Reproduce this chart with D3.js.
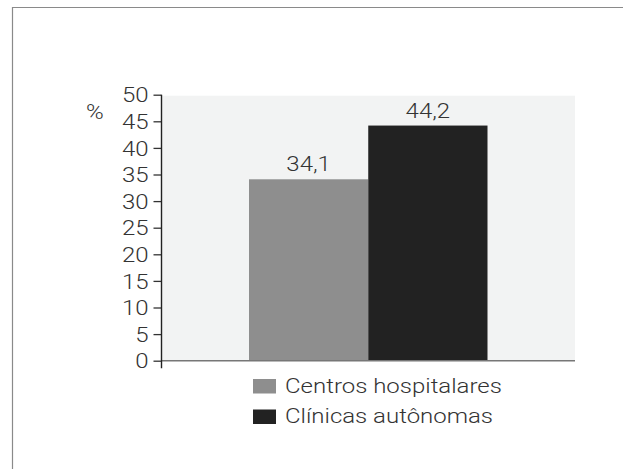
<!DOCTYPE html>
<html><head><meta charset="utf-8">
<script src="https://cdn.jsdelivr.net/npm/d3@7"></script>
<style>
html,body{margin:0;padding:0;background:#fff;}
svg{display:block;font-family:Roboto,"Liberation Sans",sans-serif;font-weight:300;}
</style></head>
<body>
<script>
const categories = ["Centros hospitalares", "Clínicas autônomas"];
const values = [34.1, 44.2];
const valueLabels = ["34,1", "44,2"];
const colors = ["#8e8e8e", "#222222"];
const yTicks = [0,5,10,15,20,25,30,35,40,45,50];

const W = 623, H = 469;
const FS = 20, SX = 1.2;
const svg = d3.select("body").append("svg").attr("width", W).attr("height", H);
const textColor = "#333";

function wideText(parent, x, y, str, anchor) {
  return parent.append("text")
    .attr("transform", `translate(${x},${y}) scale(${SX},1)`)
    .attr("text-anchor", anchor || "start")
    .attr("font-size", FS).attr("fill", textColor).text(str);
}

// frame
svg.append("path").attr("d", "M12.5,469 V7.5 H623").attr("fill","none").attr("stroke","#8a8a8a").attr("stroke-width",1.2);

const plotLeft = 161.5, plotRight = 575, y0 = 360.7, yTop = 94.7;
const y = d3.scaleLinear().domain([0,50]).range([y0, yTop]);
const x = d3.scaleBand().domain(categories).range([249, 487.5]).paddingInner(0).paddingOuter(0);

// plot background
svg.append("rect").attr("x", plotLeft).attr("y", y(50)+1).attr("width", plotRight-plotLeft).attr("height", y(0)-y(50)-1).attr("fill","#f2f3f3");

// bars
svg.selectAll("rect.bar").data(values).enter().append("rect").attr("class","bar")
  .attr("x",(d,i)=>x(categories[i])).attr("width",x.bandwidth())
  .attr("y",d=>y(d)).attr("height",d=>y(0)-y(d)).attr("fill",(d,i)=>colors[i]);

// value labels
values.forEach((d,i)=>{
  wideText(svg, x(categories[i])+x.bandwidth()/2, y(d)-8, valueLabels[i], "middle");
});

// baseline
svg.append("line").attr("x1",plotLeft).attr("x2",plotRight).attr("y1",y(0)).attr("y2",y(0)).attr("stroke","#777").attr("stroke-width",1.5);

// y axis
const axis = d3.axisLeft(y).tickValues(yTicks).tickSize(8).tickPadding(5).tickFormat(d3.format("d"));
const g = svg.append("g").attr("transform",`translate(${plotLeft},0)`).call(axis);
g.select(".domain").remove();
g.selectAll(".tick line").attr("stroke","#333").attr("stroke-width",1.3);
g.selectAll(".tick text")
  .attr("x", -13/SX).attr("transform", `scale(${SX},1)`)
  .attr("font-size",FS).attr("fill",textColor)
  .attr("font-family","Roboto, 'Liberation Sans', sans-serif").attr("font-weight",300).attr("dy","0.36em");
svg.append("line").attr("x1",plotLeft).attr("x2",plotLeft).attr("y1",y(50)).attr("y2",y(0)+7.5).attr("stroke","#222").attr("stroke-width",1.4);

wideText(svg, 86, 119, "%");

// legend
categories.forEach((c,i)=>{
  const ly = 379 + i*30.5;
  svg.append("rect").attr("x",253).attr("y",ly).attr("width",23).attr("height",14.5).attr("fill",colors[i]);
  wideText(svg, 285, ly+13.7, c);
});
</script>
</body></html>
